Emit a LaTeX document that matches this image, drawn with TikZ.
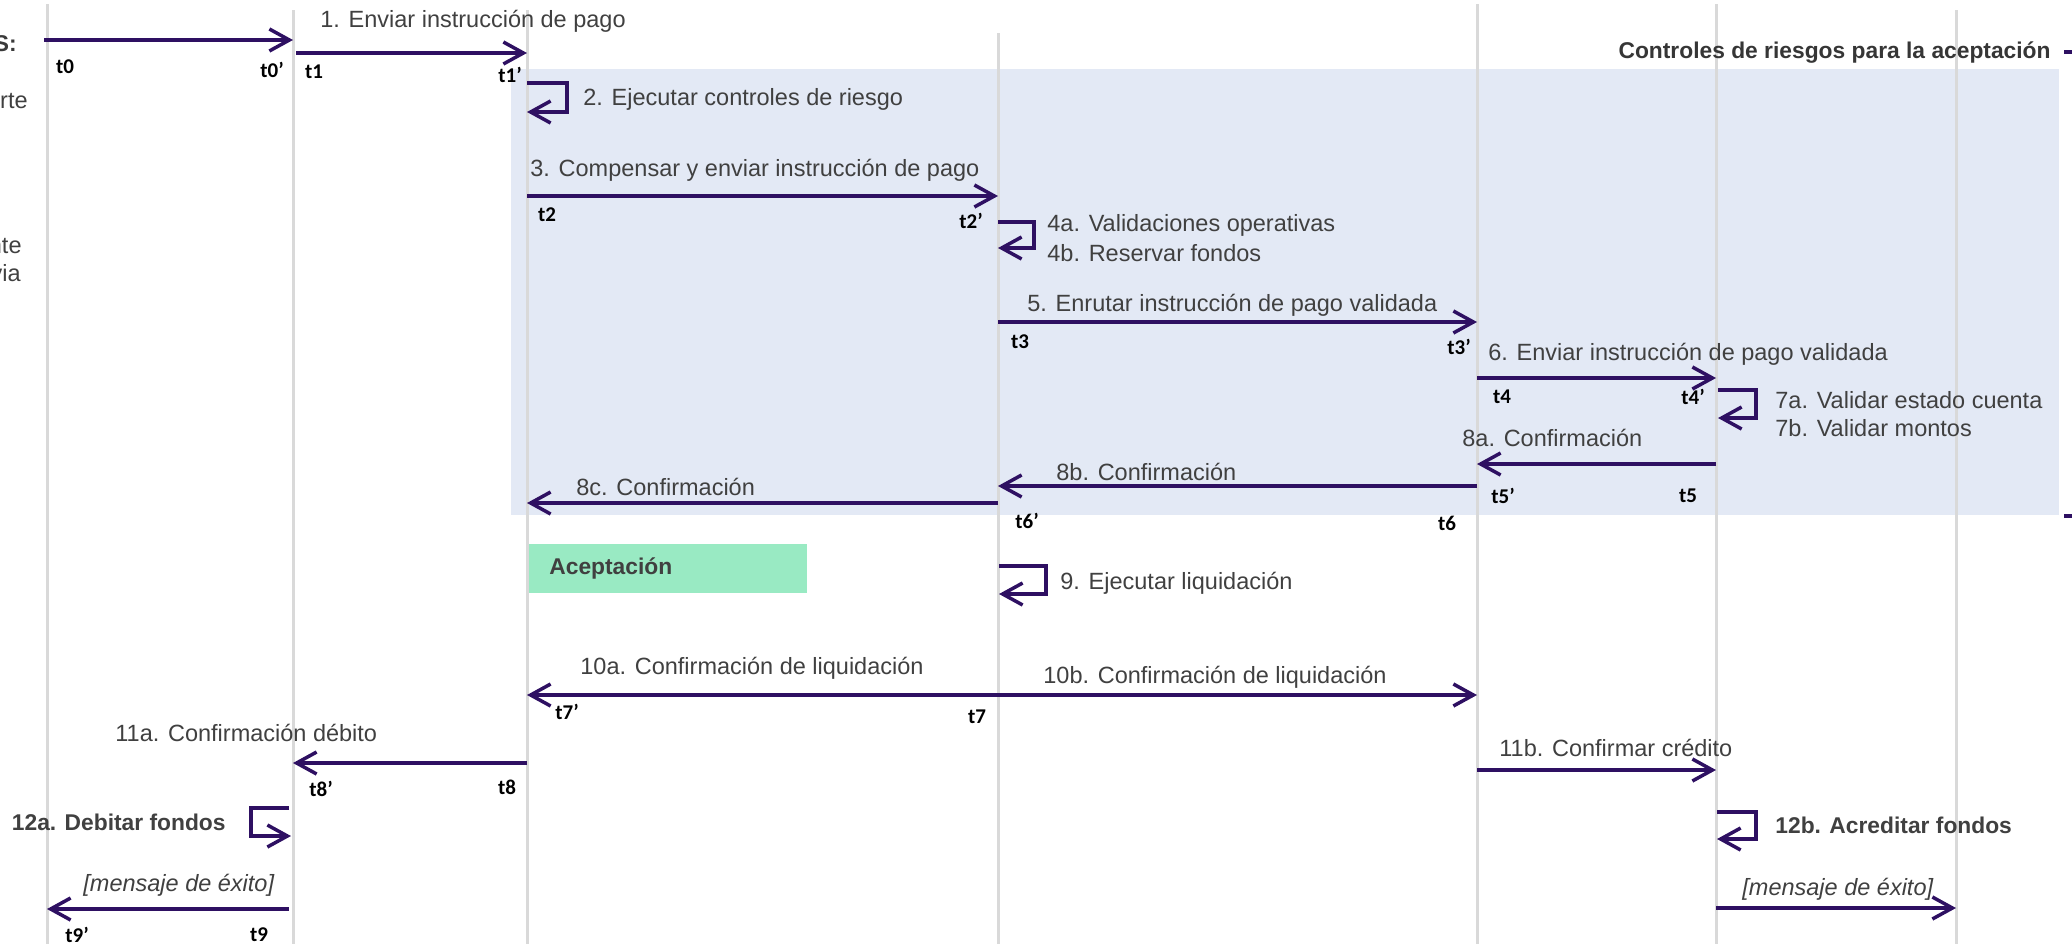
\documentclass[tikz,border=0pt]{standalone}
\usepackage{fontspec}
\setmainfont{Liberation Sans}
\newfontfamily\tfont{Carlito}
\usepackage{tikz}
\usetikzlibrary{arrows.meta,positioning}
\definecolor{msgcol}{HTML}{2E1062}
\definecolor{txtcol}{HTML}{404040}
\definecolor{lifecol}{HTML}{D9D9D9}
\definecolor{riskcol}{HTML}{E3E9F5}
\definecolor{okcol}{HTML}{99EAC3}
\tikzstyle{lifeline} = [draw=lifecol, line width=1.5bp]
\tikzstyle{line} = [draw=msgcol, line width=1.75bp, -{Straight Barb[length=10bp,width=11bp]}]
\tikzstyle{tick} = [draw=msgcol, line width=1.75bp]
\tikzstyle{lbl} = [inner sep=0pt, anchor=base west, text=txtcol, font=\fontsize{11.75bp}{14bp}\selectfont]
\tikzstyle{blbl} = [lbl, font=\fontsize{11.4bp}{14bp}\selectfont\bfseries]
\tikzstyle{ilbl} = [lbl, font=\fontsize{11.75bp}{14bp}\selectfont\itshape]
\tikzstyle{tlbl} = [inner sep=0pt, anchor=base, font=\tfont\fontsize{10.5bp}{12bp}\selectfont\bfseries]
\tikzstyle{okbox} = [fill=okcol, anchor=north west, inner xsep=10bp, inner ysep=0pt,
text width=119bp, minimum height=24.5bp, text=txtcol, font=\fontsize{11.4bp}{14bp}\selectfont\bfseries]

\begin{document}
\begin{tikzpicture}[x=0.5bp, y=-0.5bp]
  \useasboundingbox (0,0) rectangle (2072,944);

    % zones and lifelines
    \fill[riskcol] (511,69) rectangle (2059,515);
    \foreach \x/\y in {47/4, 293/10, 527/10, 998/33, 1477/4, 1716/4, 1956/10}
      \draw[lifeline] (\x,\y) -- (\x,944);

    % cut off texts at the edges
    \node[blbl, anchor=base east, text=txtcol!90!black] (hdr) at (17,51) {S:};
    \node[lbl, anchor=base east] (frA) at (28,108) {rte};
    \node[lbl, anchor=base east] (frB) at (22,253) {nte};
    \node[lbl, anchor=base east] (frC) at (21,281) {via};
    \node[blbl, anchor=base east, text=txtcol!85!black] (ctrl) at (2051,58) {Controles de riesgos para la aceptación};
    \coordinate (brA) at (2064,52);  \coordinate (brA2) at (2074,52);
    \coordinate (brB) at (2064,516); \coordinate (brB2) at (2074,516);

    % Place nodes
    \node[okbox] (acep) at (529,544) {Aceptación};

    \coordinate (t0) at (44,40);    \coordinate (t0p) at (293,40);
    \coordinate (t1) at (296,53);   \coordinate (t1p) at (527,53);
    \coordinate (t2) at (527,196);  \coordinate (t2p) at (998,196);
    \coordinate (t3) at (998,322);  \coordinate (t3p) at (1477,322);
    \coordinate (t4) at (1477,378); \coordinate (t4p) at (1716,378);
    \coordinate (t5) at (1716,464); \coordinate (t5p) at (1477,464);
    \coordinate (t6) at (1477,486); \coordinate (t6p) at (998,486);
    \coordinate (c8) at (998,503);  \coordinate (c8p) at (527,503);
    \coordinate (t7) at (998,695);  \coordinate (t7p) at (527,695);
    \coordinate (c10) at (1477,695);
    \coordinate (t8) at (527,763);  \coordinate (t8p) at (293,763);
    \coordinate (c11) at (1477,770); \coordinate (c11p) at (1716,770);
    \coordinate (t9) at (289,909);  \coordinate (t9p) at (47,909);
    \coordinate (c13) at (1716,908); \coordinate (c13p) at (1956,908);

    \coordinate (s2) at (527,83);   \coordinate (s2p) at (527,112);
    \coordinate (s4) at (998,222);  \coordinate (s4p) at (998,248);
    \coordinate (s7) at (1718,390); \coordinate (s7p) at (1718,418);
    \coordinate (s9) at (999,566);  \coordinate (s9p) at (999,594);
    \coordinate (s12a) at (289,808); \coordinate (s12ap) at (291,836);
    \coordinate (s12b) at (1717,812); \coordinate (s12bp) at (1717,839);

    % time marks
    \node[tlbl] (lt0) at (65,73) {t0};
    \node[tlbl] (lt0p) at (272,77) {t0’};
    \node[tlbl] (lt1) at (314,78) {t1};
    \node[tlbl] (lt1p) at (510,82) {t1’};
    \node[tlbl] (lt2) at (547,221) {t2};
    \node[tlbl] (lt2p) at (971,228) {t2’};
    \node[tlbl] (lt3) at (1020,348) {t3};
    \node[tlbl] (lt3p) at (1459,354) {t3’};
    \node[tlbl] (lt4) at (1502,403) {t4};
    \node[tlbl] (lt4p) at (1693,404) {t4’};
    \node[tlbl] (lt5p) at (1503,503) {t5’};
    \node[tlbl] (lt5) at (1688,502) {t5};
    \node[tlbl] (lt6p) at (1027,528) {t6’};
    \node[tlbl] (lt6) at (1447,530) {t6};
    \node[tlbl] (lt7p) at (567,719) {t7’};
    \node[tlbl] (lt7) at (977,723) {t7};
    \node[tlbl] (lt8p) at (321,796) {t8’};
    \node[tlbl] (lt8) at (507,794) {t8};
    \node[tlbl] (lt9p) at (77,942) {t9’};
    \node[tlbl] (lt9) at (259,941) {t9};

    % messages
    \node[lbl] (m1) at (320,27) {1. Enviar instrucción de pago};
    \node[lbl] (m2) at (583,105) {2. Ejecutar controles de riesgo};
    \node[lbl] (m3) at (530,176) {3. Compensar y enviar instrucción de pago};
    \node[lbl] (m4a) at (1047,231) {4a. Validaciones operativas};
    \node[lbl] (m4b) at (1047,261) {4b. Reservar fondos};
    \node[lbl] (m5) at (1027,311) {5. Enrutar instrucción de pago validada};
    \node[lbl] (m6) at (1488,360) {6. Enviar instrucción de pago validada};
    \node[lbl] (m7a) at (1775,408) {7a. Validar estado cuenta};
    \node[lbl] (m7b) at (1775,436) {7b. Validar montos};
    \node[lbl] (m8a) at (1462,446) {8a. Confirmación};
    \node[lbl] (m8b) at (1056,480) {8b. Confirmación};
    \node[lbl] (m8c) at (576,495) {8c. Confirmación};
    \node[lbl] (m9) at (1060,589) {9. Ejecutar liquidación};
    \node[lbl] (m10a) at (580,674) {10a. Confirmación de liquidación};
    \node[lbl] (m10b) at (1043,683) {10b. Confirmación de liquidación};
    \node[lbl] (m11a) at (115,741) {11a. Confirmación débito};
    \node[lbl] (m11b) at (1499,756) {11b. Confirmar crédito};
    \node[blbl, anchor=base east] (m12a) at (226,830) {12a. Debitar fondos};
    \node[blbl] (m12b) at (1775,833) {12b. Acreditar fondos};
    \node[ilbl] (m13a) at (83,891) {[mensaje de éxito]};
    \node[ilbl] (m13b) at (1742,895) {[mensaje de éxito]};

    % edges
    \path [line] (t0) -- (t0p);
    \path [line] (t1) -- (t1p);
    \path [line] (s2) -- ++(40,0) |- (s2p);
    \path [line] (t2) -- (t2p);
    \path [line] (s4) -- ++(36,0) |- (s4p);
    \path [line] (t3) -- (t3p);
    \path [line] (t4) -- (t4p);
    \path [line] (s7) -- ++(38,0) |- (s7p);
    \path [line] (t5) -- (t5p);
    \path [line] (t6) -- (t6p);
    \path [line] (c8) -- (c8p);
    \path [line] (s9) -- ++(47,0) |- (s9p);
    \path [line] (t7) -- (t7p);
    \path [line] (t7) -- (c10);
    \path [line] (t8) -- (t8p);
    \path [line] (c11) -- (c11p);
    \path [line] (s12a) -- ++(-38,0) |- (s12ap);
    \path [line] (s12b) -- ++(39,0) |- (s12bp);
    \path [line] (t9) -- (t9p);
    \path [line] (c13) -- (c13p);
    \path [tick] (brA) -- (brA2);
    \path [tick] (brB) -- (brB2);
\end{tikzpicture}
\end{document}
